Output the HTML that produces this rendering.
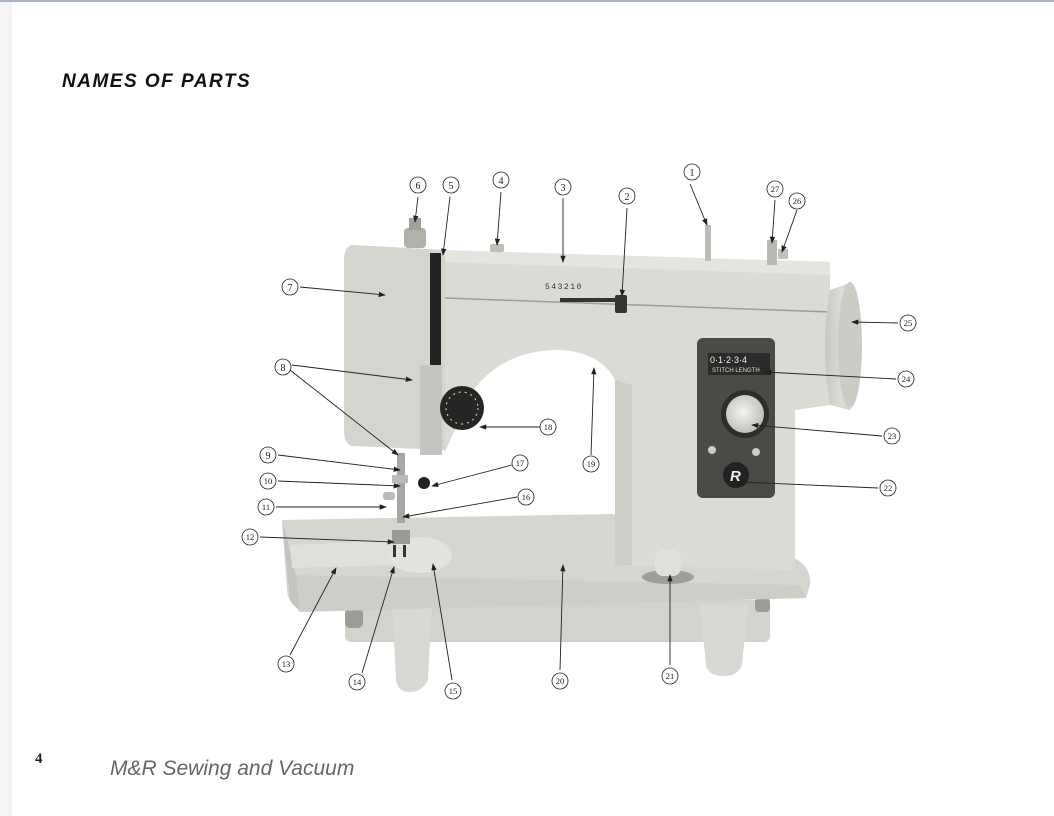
<!DOCTYPE html>
<html><head><meta charset="utf-8"><style>
html,body{margin:0;padding:0;background:#fff;}
body{width:1054px;height:816px;position:relative;overflow:hidden;font-family:"Liberation Sans",sans-serif;}
svg{position:absolute;left:0;top:0;}
</style></head><body>
<svg width="1054" height="816" viewBox="0 0 1054 816" xmlns="http://www.w3.org/2000/svg">
<defs>
<radialGradient id="knob" cx="0.45" cy="0.45" r="0.6"><stop offset="0" stop-color="#f4f4f0"/><stop offset="1" stop-color="#bdbcb6"/></radialGradient>
<linearGradient id="wheel" x1="0" x2="1"><stop offset="0" stop-color="#c9c7c1"/><stop offset="0.5" stop-color="#dedcd6"/><stop offset="1" stop-color="#c2c0ba"/></linearGradient>
<marker id="ah" markerWidth="8" markerHeight="6" refX="7" refY="3" orient="auto"><path d="M0,0 L8,3 L0,6 Z" fill="#222"/></marker>
</defs>
<rect x="0" y="0" width="1054" height="816" fill="#fff"/>
<rect x="0" y="0" width="12" height="816" fill="#f4f4f4"/>
<rect x="0" y="0" width="1054" height="2" fill="#a9b4c2"/>
<text x="62" y="87" font-family="Liberation Sans" font-weight="bold" font-style="italic" font-size="19" fill="#111" letter-spacing="1.5">NAMES OF PARTS</text>
<text x="35" y="763" font-family="Liberation Serif" font-weight="bold" font-size="15" fill="#222">4</text>
<text x="110" y="775" font-family="Liberation Sans" font-style="italic" font-size="21" fill="#666">M&amp;R Sewing and Vacuum</text>

<rect x="345" y="600" width="425" height="42" rx="6" fill="#d4d2cc"/>
<path d="M392,605 L432,605 L428,680 Q422,692 410,692 Q398,692 396,680 Z" fill="#d9d7d1"/>
<path d="M700,605 L748,605 L742,665 Q738,676 724,676 Q708,676 706,665 Z" fill="#d9d7d1"/>
<rect x="345" y="608" width="18" height="20" rx="5" fill="#9d9b95"/>
<rect x="755" y="598" width="15" height="14" rx="4" fill="#9d9b95"/>
<path d="M282,520 L612,514 L790,556 Q812,565 810,585 L806,598 L300,610 Q288,604 287,590 Z" fill="#d7d5cf"/>
<path d="M296,575 L800,585 L806,598 L300,612 Z" fill="#cfcdc7"/>
<path d="M282,520 L296,575 L300,612 L290,600 Z" fill="#c6c4be"/>
<path d="M292,568 L395,565 L397,540 L290,545 Z" fill="#e1dfd9"/>
<ellipse cx="420" cy="555" rx="32" ry="18" fill="#e4e2dc"/>
<path d="M440,250 L830,262 L830,405 L795,410 L795,570 L615,565 L615,380 Q600,352 560,350 Q500,350 470,395 L445,452 Z" fill="#dcdad4"/>
<path d="M615,380 L632,385 L632,565 L615,565 Z" fill="#cfcdc7"/>
<path d="M440,250 L830,262 L830,275 L440,262 Z" fill="#e6e4de"/>
<path d="M445,298 L830,312" stroke="#9f9d97" stroke-width="1.5"/>
<path d="M352,245 L445,250 L445,450 L352,446 Q344,444 344,430 L344,260 Q344,247 352,245 Z" fill="#d6d4ce"/>
<rect x="430" y="253" width="11" height="115" fill="#222"/>
<rect x="420" y="365" width="22" height="90" fill="#c6c4be"/>
<rect x="404" y="228" width="22" height="20" rx="4" fill="#b2b0aa"/>
<rect x="409" y="218" width="12" height="12" fill="#a3a19b"/>
<rect x="490" y="244" width="14" height="8" rx="2" fill="#c0beb8"/>
<rect x="705" y="225" width="6" height="36" fill="#bdbbb5"/>
<rect x="767" y="240" width="10" height="25" fill="#b9b7b1"/>
<rect x="778" y="249" width="10" height="10" fill="#c3c1bb"/>
<text x="545" y="289" font-size="8" fill="#333" letter-spacing="1.5" font-family="Liberation Mono">543210</text>
<rect x="560" y="298" width="60" height="4" fill="#333"/>
<rect x="615" y="295" width="12" height="18" rx="2" fill="#333"/>
<path d="M830,290 Q820,345 830,405 L850,410 Q868,345 850,283 Z" fill="url(#wheel)"/>
<ellipse cx="850" cy="345" rx="12" ry="63" fill="#cdcbc5"/>
<rect x="697" y="338" width="78" height="160" rx="6" fill="#4b4a47"/>
<rect x="708" y="353" width="62" height="22" fill="#2c2b29"/>
<text x="710" y="363" font-size="9" fill="#eee" font-family="Liberation Sans">0·1·2·3·4</text>
<text x="712" y="372" font-size="6" fill="#ddd" font-family="Liberation Sans">STITCH LENGTH</text>
<circle cx="745" cy="414" r="24" fill="#2e2d2b"/>
<circle cx="745" cy="414" r="19" fill="url(#knob)"/>
<circle cx="712" cy="450" r="4" fill="#ccc"/>
<circle cx="756" cy="452" r="4" fill="#ccc"/>
<circle cx="736" cy="475" r="13" fill="#222"/>
<text x="730" y="481" font-size="15" font-weight="bold" fill="#eee" font-style="italic">R</text>
<circle cx="462" cy="408" r="22" fill="#262524"/>
<circle cx="462" cy="408" r="16" fill="none" stroke="#ddd" stroke-width="1" stroke-dasharray="2 4"/>
<rect x="397" y="453" width="8" height="70" fill="#a9a7a1"/>
<rect x="392" y="475" width="16" height="8" fill="#bbb"/>
<circle cx="424" cy="483" r="6" fill="#222"/>
<rect x="383" y="492" width="12" height="8" rx="3" fill="#bbb"/>
<rect x="392" y="530" width="18" height="14" fill="#9b9993"/>
<rect x="393" y="545" width="3" height="12" fill="#333"/><rect x="403" y="545" width="3" height="12" fill="#333"/>
<ellipse cx="668" cy="577" rx="26" ry="7" fill="#9f9d97"/>
<rect x="655" y="550" width="26" height="26" rx="8" fill="#e2e0da"/>

<g stroke="#222" stroke-width="0.9" fill="none" marker-end="url(#ah)">
<line x1="690" y1="184" x2="707" y2="225"/>
<line x1="627" y1="208" x2="622" y2="296"/>
<line x1="563" y1="198" x2="563" y2="262"/>
<line x1="501" y1="192" x2="497" y2="245"/>
<line x1="450" y1="197" x2="443" y2="255"/>
<line x1="418" y1="197" x2="415" y2="222"/>
<line x1="300" y1="287" x2="385" y2="295"/>
<line x1="292" y1="365" x2="412" y2="380"/>
<line x1="290" y1="370" x2="398" y2="455"/>
<line x1="278" y1="455" x2="400" y2="470"/>
<line x1="278" y1="481" x2="400" y2="486"/>
<line x1="276" y1="507" x2="386" y2="507"/>
<line x1="260" y1="537" x2="394" y2="542"/>
<line x1="290" y1="655" x2="336" y2="568"/>
<line x1="362" y1="673" x2="394" y2="567"/>
<line x1="452" y1="680" x2="433" y2="564"/>
<line x1="517" y1="497" x2="403" y2="517"/>
<line x1="512" y1="465" x2="432" y2="486"/>
<line x1="540" y1="427" x2="480" y2="427"/>
<line x1="591" y1="455" x2="594" y2="368"/>
<line x1="560" y1="670" x2="563" y2="565"/>
<line x1="670" y1="665" x2="670" y2="575"/>
<line x1="878" y1="488" x2="740" y2="482"/>
<line x1="882" y1="436" x2="752" y2="425"/>
<line x1="896" y1="379" x2="765" y2="372"/>
<line x1="898" y1="323" x2="852" y2="322"/>
<line x1="797" y1="210" x2="782" y2="252"/>
<line x1="775" y1="200" x2="772" y2="243"/>
</g>
<g font-family="Liberation Serif" font-size="10" fill="#222" text-anchor="middle">
<g stroke="#222" stroke-width="0.8" fill="none">
<circle cx="692" cy="172" r="8"/><circle cx="627" cy="196" r="8"/><circle cx="563" cy="187" r="8"/><circle cx="501" cy="180" r="8"/><circle cx="451" cy="185" r="8"/><circle cx="418" cy="185" r="8"/><circle cx="290" cy="287" r="8"/><circle cx="283" cy="367" r="8"/><circle cx="268" cy="455" r="8"/><circle cx="268" cy="481" r="8"/><circle cx="266" cy="507" r="8"/><circle cx="250" cy="537" r="8"/><circle cx="286" cy="664" r="8"/><circle cx="357" cy="682" r="8"/><circle cx="453" cy="691" r="8"/><circle cx="526" cy="497" r="8"/><circle cx="520" cy="463" r="8"/><circle cx="548" cy="427" r="8"/><circle cx="591" cy="464" r="8"/><circle cx="560" cy="681" r="8"/><circle cx="670" cy="676" r="8"/><circle cx="888" cy="488" r="8"/><circle cx="892" cy="436" r="8"/><circle cx="906" cy="379" r="8"/><circle cx="908" cy="323" r="8"/><circle cx="797" cy="201" r="8"/><circle cx="775" cy="189" r="8"/>
</g>
<text x="692" y="176">1</text><text x="627" y="200">2</text><text x="563" y="191">3</text><text x="501" y="184">4</text><text x="451" y="189">5</text><text x="418" y="189">6</text><text x="290" y="291">7</text><text x="283" y="371">8</text><text x="268" y="459">9</text>
<g font-size="8.5"><text x="268" y="484">10</text><text x="266" y="510">11</text><text x="250" y="540">12</text><text x="286" y="667">13</text><text x="357" y="685">14</text><text x="453" y="694">15</text><text x="526" y="500">16</text><text x="520" y="466">17</text><text x="548" y="430">18</text><text x="591" y="467">19</text><text x="560" y="684">20</text><text x="670" y="679">21</text><text x="888" y="491">22</text><text x="892" y="439">23</text><text x="906" y="382">24</text><text x="908" y="326">25</text><text x="797" y="204">26</text><text x="775" y="192">27</text></g>
</g>
</svg>
</body></html>
